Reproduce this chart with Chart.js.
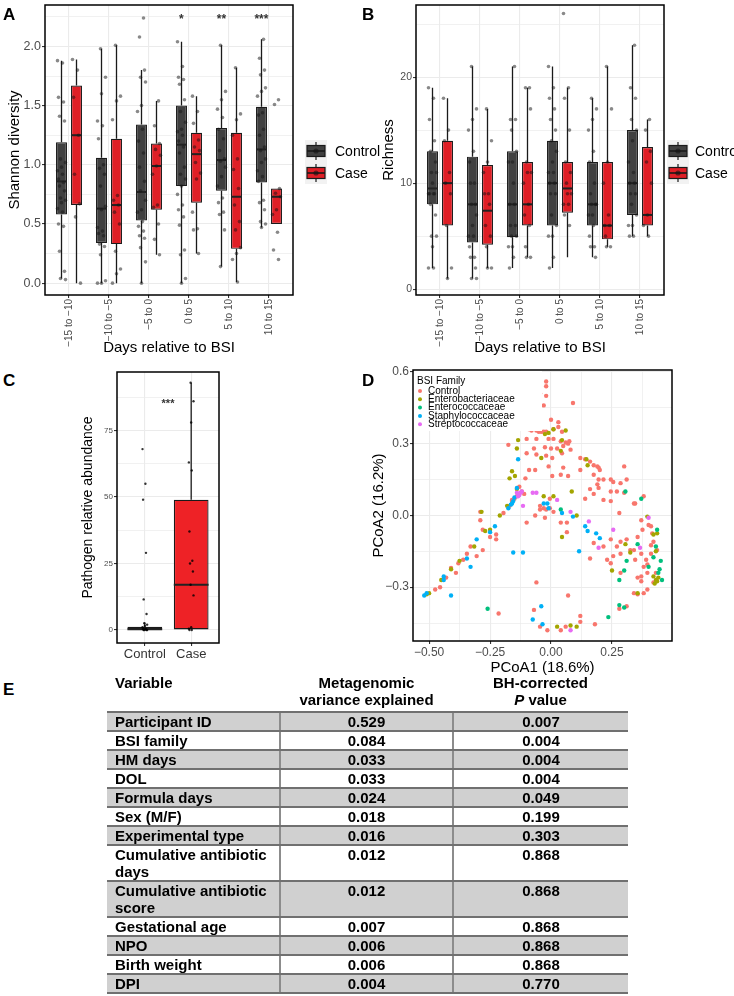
<!DOCTYPE html>
<html>
<head>
<meta charset="utf-8">
<script src="https://cdn.jsdelivr.net/npm/chart.js@4.4.1/dist/chart.umd.min.js"></script>
<style>
    body { margin: 0; background: #fff; font-family: 'Liberation Sans', Arial, sans-serif; }
    #page { position: relative; width: 734px; height: 996px; overflow: hidden; background: #fff; }
    canvas { position: absolute; }
    .tag { position: absolute; font-weight: bold; font-size: 17px; line-height: 17px; }
    .head { position: absolute; top: 674px; font-weight: bold; font-size: 15px; line-height: 17px; text-align: center; }
    table { position: absolute; left: 107px; top: 711px; width: 521px; border-collapse: collapse; table-layout: fixed; font-weight: bold; font-size: 15px; }
    td { padding: 0; line-height: 17px; border-top: 2px solid #707070; border-bottom: 2px solid #707070; vertical-align: top; text-align: center; }
    td:first-child { text-align: left; padding-left: 8px; }
    td + td { border-left: 2px solid #8c8c8c; }
    tr:nth-child(odd) td { background: #d0d0d0; }
</style>
</head>
<body>
<div id="page">
    <canvas id="shannon" width="390" height="360" style="left:0;top:0;width:390px;height:360px"></canvas>
    <canvas id="richness" width="364" height="360" style="left:370px;top:0;width:364px;height:360px"></canvas>
    <canvas id="pathogen" width="170" height="310" style="left:70px;top:360px;width:170px;height:310px"></canvas>
    <canvas id="pcoa" width="364" height="320" style="left:370px;top:360px;width:364px;height:320px"></canvas>

    <div class="tag" style="left:3px;top:6px">A</div>
    <div class="tag" style="left:362px;top:6px">B</div>
    <div class="tag" style="left:3px;top:372px">C</div>
    <div class="tag" style="left:362px;top:372px">D</div>
    <div class="tag" style="left:3px;top:681px">E</div>

    <div class="head" style="left:115px;text-align:left">Variable</div>
    <div class="head" style="left:280px;width:173px">Metagenomic<br>variance explained</div>
    <div class="head" style="left:453px;width:175px">BH-corrected<br><i>P</i> value</div>
    <table id="table">
        <colgroup><col style="width:173px"><col style="width:173px"><col style="width:175px"></colgroup>
        <tbody></tbody>
    </table>
</div>
<script>
// ---- data ----
const groupLabels = ['\u221215 to \u221210', '\u221210 to \u22125', '\u22125 to 0', '0 to 5', '5 to 10', '10 to 15']

// each box: [lower whisker, q1, median, q3, upper whisker]
const shannonControlStats = [
    [0.04, 0.58, 0.86, 1.19, 1.88],
    [0.00, 0.34, 0.63, 1.06, 1.98],
    [0.00, 0.53, 0.77, 1.34, 1.80],
    [0.00, 0.82, 1.17, 1.50, 2.04],
    [0.14, 0.78, 1.04, 1.31, 2.01],
    [0.47, 0.85, 1.13, 1.49, 2.06],
]
const shannonCaseStats = [
    [0.00, 0.66, 1.25, 1.67, 1.89],
    [0.00, 0.33, 0.66, 1.22, 2.01],
    [0.24, 0.62, 0.99, 1.18, 1.54],
    [0.25, 0.68, 1.09, 1.27, 1.58],
    [0.01, 0.29, 0.73, 1.27, 1.82],
    [0.50, 0.50, 0.73, 0.80, 0.80],
]
const shannonControlPoints = [
    [1.88, 1.86, 1.57, 1.53, 1.41, 1.37, 1.05, 1.02, 0.98, 0.95, 0.92, 0.88, 0.85, 0.82, 0.78, 0.72, 0.70, 0.68, 0.63, 0.60, 0.50, 0.48, 0.27, 0.10, 0.04, 0.03],
    [1.98, 1.74, 1.60, 1.37, 1.33, 1.22, 1.00, 0.97, 0.92, 0.82, 0.65, 0.62, 0.47, 0.44, 0.42, 0.40, 0.33, 0.31, 0.24, 0.02, 0.00, 0.00],
    [2.24, 2.08, 1.80, 1.74, 1.70, 1.50, 1.45, 1.30, 1.20, 1.10, 0.98, 0.86, 0.78, 0.70, 0.62, 0.60, 0.52, 0.48, 0.44, 0.40, 0.38, 0.30, 0.18, 0.00],
    [2.04, 1.83, 1.74, 1.72, 1.68, 1.55, 1.45, 1.36, 1.30, 1.28, 1.25, 1.20, 1.15, 1.10, 0.98, 0.92, 0.88, 0.82, 0.75, 0.66, 0.62, 0.56, 0.49, 0.28, 0.24, 0.04, 0.00],
    [2.01, 1.62, 1.55, 1.47, 1.40, 1.30, 1.22, 1.12, 1.05, 1.03, 0.98, 0.90, 0.82, 0.72, 0.68, 0.60, 0.58, 0.45, 0.14],
    [2.06, 1.90, 1.80, 1.76, 1.65, 1.62, 1.58, 1.44, 1.42, 1.30, 1.25, 1.15, 1.12, 1.05, 1.02, 0.95, 0.90, 0.86, 0.70, 0.68, 0.62, 0.52, 0.50, 0.47],
]
const shannonCasePoints = [
    [1.89, 1.80, 1.57, 1.25, 0.92, 0.67, 0.56, 0.00],
    [2.01, 1.58, 1.54, 1.38, 0.74, 0.70, 0.66, 0.60, 0.50, 0.27, 0.12, 0.08, 0.00],
    [1.54, 1.33, 1.18, 1.13, 1.08, 0.99, 0.92, 0.66, 0.64, 0.50, 0.37, 0.24],
    [1.58, 1.45, 1.35, 1.21, 1.15, 1.12, 1.02, 0.93, 0.88, 0.60, 0.46, 0.45, 0.25],
    [1.82, 1.43, 1.38, 1.25, 1.05, 0.96, 0.80, 0.66, 0.52, 0.45, 0.30, 0.25, 0.20, 0.01],
    [1.55, 1.51, 0.80, 0.76, 0.73, 0.62, 0.58, 0.43, 0.28, 0.20],
]
const shannonTicks = [0, 0.5, 1, 1.5, 2]
const shannonStars = ['', '', '', '*', '**', '***']

const richnessControlStats = [
    [2, 8, 9.5, 13, 19],
    [1, 4.4, 8, 12.5, 21],
    [2, 4.9, 8, 13, 21],
    [2, 6, 10, 14, 21],
    [3, 6, 8, 12, 18],
    [5, 7, 10, 15, 23],
]
const richnessCaseStats = [
    [1, 6, 10, 14, 18],
    [2, 4.2, 7.4, 11.7, 17],
    [3, 6, 8, 12, 19],
    [3, 7.2, 9.5, 12, 19],
    [4, 4.7, 6, 12, 21],
    [5, 6, 7, 13.4, 16],
]
const richnessControlPoints = [
    [19, 18, 16, 14, 13, 12, 11, 11, 10, 9, 9, 9, 9, 8, 7, 5, 5, 4, 2, 2],
    [21, 17, 16, 15, 13, 12, 10, 10, 8, 8, 7, 6, 5, 5, 4, 3, 3, 2, 1, 1],
    [21, 16, 16, 15, 13, 12, 12, 10, 8, 8, 6, 6, 5, 5, 4, 4, 3, 2],
    [21, 19, 18, 17, 16, 15, 14, 13, 12, 11, 11, 10, 10, 9, 9, 7, 6, 5, 5, 3, 2],
    [18, 17, 16, 15, 13, 12, 10, 9, 8, 8, 8, 7, 7, 6, 5, 4, 4, 3],
    [23, 19, 18, 16, 15, 14, 12, 11, 10, 10, 9, 9, 8, 7, 6, 6, 5, 5],
]
const richnessCasePoints = [
    [18, 15, 14, 11, 10, 9, 6, 2, 1],
    [17, 14, 12, 11, 9, 9, 8, 6, 5, 4, 2, 2],
    [19, 19, 17, 12, 11, 11, 10, 8, 7, 6, 4, 3, 3],
    [26, 19, 18, 15, 12, 11, 10, 9, 9, 8, 8, 7, 6],
    [21, 17, 12, 10, 7, 6, 6, 5, 4, 4],
    [16, 15, 13, 12, 10, 7, 6, 5],
]
const richnessTicks = [0, 10, 20]

const pathogenGroups = ['Control', 'Case']
const pathogenStats = [
    [0, 0, 0.3, 1.2, 2.8],
    [0, 0, 17, 49, 93],
]
const pathogenControlPoints = [68, 55, 49, 29, 11.5, 6, 2.5, 2, 1.5, 1, 0.5, 0.3, 0.2, 0, 0, 0, 0]
const pathogenCasePoints = [93, 86, 78, 63, 60, 37, 26, 25, 22, 17, 13, 1, 0.5, 0, 0]
const pathogenTicks = [0, 25, 50, 75]

const pcoaFamilies = ['Control', 'Enterobacteriaceae', 'Enterococcaceae', 'Staphylococcaceae', 'Streptococcaceae']
const pcoaControl = [
    [-0.02, 0.56], [-0.02, 0.54], [-0.045, 0.51], [-0.02, 0.5], [-0.03, 0.46], [0.09, 0.47], [-0.07, 0.41], [-0.07, 0.39], [0, 0.4], [0.03, 0.39],
    [-0.09, 0.36], [-0.08, 0.355], [-0.06, 0.355], [-0.05, 0.35], [-0.04, 0.35], [-0.03, 0.35], [-0.02, 0.35], [0.01, 0.36], [0.03, 0.37], [0.045, 0.35],
    [-0.1, 0.32], [-0.06, 0.32], [-0.01, 0.32], [0.01, 0.32], [0.04, 0.31], [0.06, 0.305], [0.07, 0.3], [0.075, 0.31], [0.05, 0.29], [-0.175, 0.295],
    [-0.07, 0.28], [-0.025, 0.285], [0, 0.28], [0.025, 0.28], [0.08, 0.275], [-0.1, 0.26], [-0.06, 0.255], [-0.02, 0.25], [0.005, 0.24], [0.045, 0.26],
    [0.12, 0.24], [0.14, 0.235], [0.16, 0.225], [0.175, 0.21], [0.19, 0.205], [0.195, 0.2], [0.2, 0.19], [0.3, 0.205], [-0.09, 0.19], [-0.065, 0.19],
    [-0.01, 0.205], [0.05, 0.2], [0.12, 0.19], [-0.105, 0.155], [0.005, 0.165], [0.04, 0.17], [0.07, 0.165], [0.175, 0.17], [0.195, 0.15], [0.215, 0.15],
    [0.245, 0.15], [0.255, 0.14], [0.31, 0.15], [0.285, 0.135], [0.19, 0.13], [0.195, 0.115], [0.16, 0.11], [0.175, 0.09], [0.245, 0.1], [0.27, 0.1],
    [0.3, 0.095], [0.34, 0.05], [0.345, 0.05], [0.38, 0.08], [0.14, 0.07], [0.215, 0.065], [0.245, 0.06], [0.28, 0.01], [0.37, -0.02], [0.4, -0.04],
    [0.415, -0.075], [0.42, -0.11], [0.375, -0.06], [0.355, -0.09], [0.41, -0.045], [-0.045, 0.025], [-0.02, 0.025], [-0.005, 0.03], [0.01, 0.015], [0.04, -0.03],
    [0.065, -0.03], [0.065, -0.07], [-0.025, -0.01], [-0.03, 0.03], [-0.005, 0.07], [-0.045, 0.04], [-0.065, 0], [-0.1, -0.03], [-0.29, 0.015], [-0.29, -0.02],
    [-0.28, -0.06], [-0.25, -0.09], [-0.225, -0.08], [-0.195, 0.01], [-0.17, 0.04], [-0.16, 0.065], [-0.15, 0.07], [-0.14, 0.08], [-0.225, -0.1], [-0.28, -0.145],
    [-0.305, -0.17], [-0.345, -0.16], [-0.36, -0.185], [-0.39, -0.24], [-0.455, -0.3], [-0.475, -0.31], [-0.06, -0.28], [0.07, -0.335], [0.12, -0.42], [0.18, -0.455],
    [-0.07, -0.395], [-0.045, -0.465], [-0.015, -0.48], [0.04, -0.48], [0.06, -0.465], [0.12, -0.445], [-0.215, -0.41], [0.28, -0.39], [0.31, -0.38], [0.355, -0.33],
    [0.38, -0.325], [0.395, -0.31], [0.42, -0.28], [0.395, -0.24], [0.43, -0.24], [0.37, -0.255], [0.38, -0.215], [0.395, -0.205], [0.39, -0.185], [0.37, -0.16],
    [0.41, -0.16], [0.435, -0.145], [0.23, -0.185], [0.255, -0.17], [0.285, -0.16], [0.34, -0.145], [0.245, -0.2], [0.27, -0.13], [0.285, -0.11], [0.31, -0.1],
    [0.245, -0.1], [0.175, -0.115], [0.215, -0.13], [0.16, -0.18], [0.345, -0.185], [0.325, -0.145], [0.41, -0.125], [0.355, -0.26], [0.37, -0.275], [0.34, -0.325],
    [0.285, -0.24], [-0.38, -0.2], [-0.43, -0.26], [-0.41, -0.22], [-0.13, 0.12], [-0.12, 0.1], [-0.11, 0.09], [-0.16, 0.06], [-0.33, -0.13],
]
const pcoaEnterobacteriaceae = [
    [-0.11, 0.365], [-0.135, 0.315], [-0.14, 0.28], [-0.16, 0.185], [-0.148, 0.165], [-0.17, 0.155], [-0.025, 0.34], [-0.01, 0.345], [0.01, 0.36], [-0.04, 0.24],
    [0.04, 0.27], [0.06, 0.355], [0.045, 0.315], [0.085, 0.1], [0.145, 0.235], [0.15, 0.21], [-0.03, 0.08], [0.01, 0.08], [0.045, -0.09], [0.105, 0],
    [-0.14, 0.11], [-0.18, 0.04], [-0.285, 0.015], [-0.27, -0.065], [-0.25, -0.06], [-0.21, 0], [-0.315, -0.13], [-0.375, -0.19], [-0.41, -0.225], [-0.45, -0.27],
    [-0.5, -0.325], [-0.51, -0.33], [0.08, -0.46], [0.105, -0.465], [0.025, -0.465], [0.25, -0.23], [0.305, -0.12], [0.325, -0.155], [0.395, -0.005], [0.42, -0.08],
    [0.435, -0.075], [0.43, -0.15], [0.42, -0.255], [0.43, -0.27], [0.435, -0.275], [0.355, -0.325], [0.44, -0.26], [0.425, -0.285],
]
const pcoaEnterococcaceae = [
    [0.305, 0.1], [0.37, 0.07], [0.435, -0.06], [0.43, -0.13], [0.45, -0.19], [0.445, -0.225], [0.44, -0.24], [0.355, -0.12], [0.31, -0.19], [0.3, -0.23],
    [0.28, -0.27], [0.28, -0.375], [0.3, -0.385], [0.235, -0.425], [0.04, 0.025], [-0.26, -0.39], [0.42, -0.175], [0.4, -0.215], [0.455, -0.27],
]
const pcoaStaphylococcaceae = [
    [-0.08, 0.43], [-0.105, 0.39], [-0.1, 0.395], [-0.135, 0.235], [-0.14, 0.115], [-0.15, 0.075], [-0.16, 0.05], [-0.175, 0.03], [-0.03, 0.05], [-0.015, 0.05],
    [-0.01, 0.03], [0.045, 0.01], [0.09, -0.005], [0.14, -0.045], [0.15, -0.065], [0.185, -0.075], [0.2, -0.095], [-0.155, -0.155], [-0.115, -0.155], [0.115, -0.15],
    [-0.04, -0.38], [-0.075, -0.435], [-0.035, -0.455], [-0.25, -0.07], [-0.23, -0.045], [-0.305, -0.1], [-0.345, -0.18], [-0.33, -0.215], [-0.44, -0.255], [-0.44, -0.27],
    [-0.41, -0.335], [-0.52, -0.335], [-0.51, -0.325], [-0.165, 0.045], [-0.155, 0.06],
]
const pcoaStreptococcaceae = [
    [-0.14, 0.095], [-0.13, 0.085], [-0.12, 0.1], [-0.135, 0.08], [-0.115, 0.04], [-0.075, 0.095], [-0.06, 0.095], [0.025, 0.065], [0.08, 0.015], [0.155, -0.025],
    [0.255, -0.06], [0.195, -0.135], [0.365, -0.135], [0.4, -0.01], [0.08, -0.48], [-0.125, 0.095],
]
const pcoaXTicks = [-0.5, -0.25, 0, 0.25]
const pcoaYTicks = [-0.3, 0, 0.3, 0.6]

const tableVariables = ['Participant ID', 'BSI family', 'HM days', 'DOL', 'Formula days', 'Sex (M/F)', 'Experimental type',
    'Cumulative antibiotic days', 'Cumulative antibiotic score', 'Gestational age', 'NPO', 'Birth weight', 'DPI']
const tableVariance = ['0.529', '0.084', '0.033', '0.033', '0.024', '0.018', '0.016', '0.012', '0.012', '0.007', '0.006', '0.006', '0.004']
const tablePValues = ['0.007', '0.004', '0.004', '0.004', '0.049', '0.199', '0.303', '0.868', '0.868', '0.868', '0.868', '0.868', '0.770']

// ---- styling helpers ----
const controlFill = '#404040'
const caseFill = '#df1f26'
const familyColors = ['#F8766D', '#A3A500', '#00BF7D', '#00B0F6', '#E76BF3']
const tickGray = '#4d4d4d'
const gridGray = '#ebebeb'

Chart.defaults.font.family = "'Liberation Sans', Arial, sans-serif"
Chart.defaults.animation = false
Chart.defaults.plugins.legend.display = false
Chart.defaults.plugins.tooltip.enabled = false

function gridValues(major, min, max) {
    const half = (major[1] - major[0]) / 2
    const out = []
    for (let k = -1; k <= major.length * 2; k++) {
        const v = Math.round((major[0] + k * half) * 1e6) / 1e6
        if (v >= min && v <= max) out.push(v)
    }
    return out
}
const isMajor = (v, major) => major.some(m => Math.abs(m - v) < 1e-6)
const fmt = (v, digits) => (v < -1e-9 ? '\u2212' : '') + Math.abs(v).toFixed(digits)

function valueAxis({ min, max, major, digits, size, fontSize, title, titleSize = 15, titlePad, horizontal = false }) {
    const values = gridValues(major, min, max)
    return {
        type: 'linear', min, max, bounds: 'data', offset: false,
        afterBuildTicks: scale => { scale.ticks = values.map(value => ({ value })) },
        afterFit: scale => {
            if (horizontal) scale.height = size
            else scale.width = size
            scale.paddingTop = scale.paddingBottom = scale.paddingLeft = scale.paddingRight = 0
        },
        ticks: {
            autoSkip: false, padding: 1, color: tickGray, maxRotation: 0, minRotation: 0,
            font: { size: fontSize },
            callback: v => isMajor(v, major) ? fmt(v, digits) : '',
        },
        grid: {
            color: gridGray, tickLength: 3, offset: false,
            lineWidth: ctx => ctx.tick && isMajor(ctx.tick.value, major) ? 1.1 : 0.7,
            tickColor: ctx => ctx.tick && isMajor(ctx.tick.value, major) ? '#333' : 'rgba(0,0,0,0)',
        },
        border: { display: false },
        title: { display: true, text: title, color: '#000', font: { size: titleSize }, padding: { top: titlePad, bottom: titlePad } },
    }
}

function groupAxis({ labels, min, max, size, fontSize, rotate, title, titlePad, color = tickGray }) {
    return {
        type: 'linear', min, max, bounds: 'data', offset: false,
        afterBuildTicks: scale => { scale.ticks = labels.map((_, i) => ({ value: i + 1 })) },
        afterFit: scale => {
            scale.height = size
            scale.paddingLeft = scale.paddingRight = 0
        },
        ticks: {
            autoSkip: false, padding: 1, color, minRotation: rotate, maxRotation: rotate,
            font: { size: fontSize },
            callback: v => labels[Math.round(v) - 1],
        },
        grid: { color: gridGray, lineWidth: 1.1, tickLength: 3, tickColor: '#333', offset: false },
        border: { display: false },
        title: title
            ? { display: true, text: title, color: '#000', font: { size: 15 }, padding: { top: 0, bottom: titlePad } }
            : { display: false },
    }
}

function boxes(label, stats, fill) {
    return {
        type: 'bar', label, stats, order: 2,
        data: stats.map((s, i) => ({ x: i + 1, y: [s[1], s[3]] })),
        backgroundColor: fill, borderColor: '#1a1a1a', borderWidth: 1.2, borderSkipped: false,
        categoryPercentage: 0.75, barPercentage: 0.73,
    }
}

// points sit in each box column, spread sideways by a fixed pattern
function jittered(groups, shift, spread, radius, color) {
    const data = []
    groups.forEach((values, g) => values.forEach((y, k) => {
        data.push({ x: g + 1 + shift + ((((k * 5 + g * 3) % 9) - 4) / 4) * spread, y })
    }))
    return { type: 'scatter', data, order: 1, pointRadius: radius, pointHoverRadius: radius, backgroundColor: color, borderWidth: 0 }
}

const boxplotPlugin = {
    id: 'boxplot',
    beforeDatasetsDraw(chart) {
        const { ctx } = chart
        const y = chart.scales.y
        ctx.save()
        ctx.strokeStyle = '#1a1a1a'
        ctx.lineWidth = 1.3
        chart.data.datasets.forEach((ds, i) => {
            if (!ds.stats) return
            chart.getDatasetMeta(i).data.forEach((bar, j) => {
                const [lo, q1, , q3, hi] = ds.stats[j]
                ctx.beginPath()
                ctx.moveTo(bar.x, y.getPixelForValue(hi))
                ctx.lineTo(bar.x, y.getPixelForValue(q3))
                ctx.moveTo(bar.x, y.getPixelForValue(q1))
                ctx.lineTo(bar.x, y.getPixelForValue(lo))
                ctx.stroke()
            })
        })
        ctx.restore()
    },
    afterDatasetDraw(chart, args) {
        const ds = chart.data.datasets[args.index]
        if (!ds.stats) return
        const { ctx } = chart
        const y = chart.scales.y
        ctx.save()
        ctx.strokeStyle = '#222'
        ctx.lineWidth = 2
        args.meta.data.forEach((bar, j) => {
            const py = y.getPixelForValue(ds.stats[j][2])
            ctx.beginPath()
            ctx.moveTo(bar.x - bar.width / 2, py)
            ctx.lineTo(bar.x + bar.width / 2, py)
            ctx.stroke()
        })
        ctx.restore()
    },
}

const panelBorder = {
    id: 'panelBorder',
    afterDatasetsDraw(chart) {
        const { ctx, chartArea: a } = chart
        ctx.save()
        ctx.strokeStyle = '#000'
        ctx.lineWidth = 1.5
        ctx.strokeRect(a.left, a.top, a.right - a.left, a.bottom - a.top)
        ctx.restore()
    },
}

function starsPlugin(marks, shift, level, size) {
    return {
        id: 'stars',
        afterDatasetsDraw(chart) {
            const { ctx, scales: { x, y } } = chart
            ctx.save()
            ctx.fillStyle = '#333'
            ctx.font = `bold ${size}px 'Liberation Sans', Arial, sans-serif`
            ctx.textAlign = 'center'
            ctx.textBaseline = 'middle'
            marks.forEach((m, i) => {
                if (m) ctx.fillText(m, x.getPixelForValue(i + 1 + shift), y.getPixelForValue(level) + 3)
            })
            ctx.restore()
        },
    }
}

function boxLegend(keyGap, textGap) {
    return {
        id: 'boxLegend',
        afterDraw(chart) {
            const { ctx, chartArea: a } = chart
            const mid = (a.top + a.bottom) / 2 + 1
            const kx = a.right + keyGap
            const entries = chart.data.datasets.filter(ds => ds.stats)
            ctx.save()
            entries.forEach((ds, i) => {
                const cy = mid + i * 22
                ctx.fillStyle = '#f2f2f2'
                ctx.fillRect(kx, cy - 11, 22, 22)
                ctx.strokeStyle = '#1a1a1a'
                ctx.lineWidth = 1.2
                ctx.beginPath()
                ctx.moveTo(kx + 11, cy - 9)
                ctx.lineTo(kx + 11, cy + 9)
                ctx.stroke()
                ctx.fillStyle = ds.backgroundColor
                ctx.fillRect(kx + 2, cy - 5.5, 18, 11)
                ctx.strokeRect(kx + 2, cy - 5.5, 18, 11)
                ctx.lineWidth = 1.6
                ctx.beginPath()
                ctx.moveTo(kx + 2, cy)
                ctx.lineTo(kx + 20, cy)
                ctx.stroke()
                ctx.fillStyle = 'rgba(20,20,20,0.6)'
                ctx.beginPath()
                ctx.arc(kx + 11, cy, 2.6, 0, Math.PI * 2)
                ctx.fill()
                ctx.fillStyle = '#000'
                ctx.font = "14px 'Liberation Sans', Arial, sans-serif"
                ctx.textBaseline = 'middle'
                ctx.fillText(ds.label, a.right + textGap, cy + 1)
            })
            ctx.restore()
        },
    }
}

function boxChart(id, o) {
    return new Chart(document.getElementById(id), {
        type: 'bar',
        data: {
            datasets: [
                boxes('Control', o.controlStats, controlFill),
                boxes('Case', o.caseStats, caseFill),
                jittered(o.controlPoints, -0.1875, 0.1, 1.8, 'rgba(20,20,20,0.5)'),
                jittered(o.casePoints, 0.1875, 0.1, 1.8, 'rgba(20,20,20,0.5)'),
            ],
        },
        options: {
            responsive: false,
            layout: { padding: { top: 5, right: o.padRight, left: 0, bottom: 0 } },
            scales: {
                x: groupAxis({ labels: groupLabels, min: 0.4, max: 6.6, size: 65, fontSize: 10, rotate: 90, title: 'Days relative to BSI', titlePad: 3 }),
                y: valueAxis(o.y),
            },
        },
        plugins: [boxplotPlugin, panelBorder, boxLegend(o.keyGap, o.textGap), ...(o.extra || [])],
    })
}

// ---- A: Shannon diversity ----
boxChart('shannon', {
    controlStats: shannonControlStats, caseStats: shannonCaseStats,
    controlPoints: shannonControlPoints, casePoints: shannonCasePoints,
    padRight: 97, keyGap: 12, textGap: 42,
    y: { min: -0.1, max: 2.35, major: shannonTicks, digits: 1, size: 45, fontSize: 12.5, title: 'Shannon diversity', titlePad: 6 },
    extra: [starsPlugin(shannonStars, -0.19, 2.25, 12)],
})

// ---- B: Richness ----
boxChart('richness', {
    controlStats: richnessControlStats, caseStats: richnessCaseStats,
    controlPoints: richnessControlPoints, casePoints: richnessCasePoints,
    padRight: 70, keyGap: 3, textGap: 31,
    y: { min: -0.55, max: 26.8, major: richnessTicks, digits: 0, size: 46, fontSize: 10.5, title: 'Richness', titlePad: 9.5 },
})

// ---- C: pathogen relative abundance ----
new Chart(document.getElementById('pathogen'), {
    type: 'bar',
    data: {
        datasets: [
            {
                type: 'bar', label: 'Pathogen', stats: pathogenStats, order: 2,
                data: pathogenStats.map((s, i) => ({ x: i + 1, y: [s[1], s[3]] })),
                backgroundColor: ['#333333', '#ee2226'], borderColor: '#1a1a1a', borderWidth: 1.3, borderSkipped: false,
                categoryPercentage: 0.75, barPercentage: 1,
            },
            jittered([pathogenControlPoints, pathogenCasePoints], 0, 0.05, 1.2, 'rgba(0,0,0,0.8)'),
        ],
    },
    options: {
        responsive: false,
        layout: { padding: { top: 12, right: 21, left: 0, bottom: 0 } },
        scales: {
            x: groupAxis({ labels: pathogenGroups, min: 0.4, max: 2.6, size: 27, fontSize: 13, rotate: 0, color: '#333' }),
            y: valueAxis({ min: -4.9, max: 97, major: pathogenTicks, digits: 0, size: 47, fontSize: 8, title: 'Pathogen relative abundance', titleSize: 14, titlePad: 9.6 }),
        },
    },
    plugins: [boxplotPlugin, panelBorder, starsPlugin(['', '***'], -0.5, 86, 11)],
})

// ---- D: PCoA ----
const pcoaPoints = [pcoaControl, pcoaEnterobacteriaceae, pcoaEnterococcaceae, pcoaStaphylococcaceae, pcoaStreptococcaceae]
const pcoaLegend = {
    id: 'pcoaLegend',
    afterDatasetsDraw(chart) {
        const { ctx, chartArea: a } = chart
        ctx.save()
        ctx.fillStyle = '#fff'
        ctx.fillRect(a.left + 1, a.top + 1, 128, 60)
        ctx.font = "10px 'Liberation Sans', Arial, sans-serif"
        ctx.textBaseline = 'middle'
        ctx.fillStyle = '#000'
        ctx.fillText('BSI Family', a.left + 4, a.top + 11)
        pcoaFamilies.forEach((name, i) => {
            const cy = a.top + 21 + i * 8.3
            ctx.fillStyle = familyColors[i]
            ctx.beginPath()
            ctx.arc(a.left + 7, cy, 2, 0, Math.PI * 2)
            ctx.fill()
            ctx.fillStyle = '#000'
            ctx.fillText(name, a.left + 15, cy)
        })
        ctx.restore()
    },
}
new Chart(document.getElementById('pcoa'), {
    type: 'scatter',
    data: {
        datasets: pcoaFamilies.map((name, i) => ({
            label: name,
            data: pcoaPoints[i].map(([x, y]) => ({ x, y })),
            backgroundColor: familyColors[i], borderWidth: 0, pointRadius: 2.2, pointHoverRadius: 2.2,
            order: pcoaFamilies.length - i,
        })),
    },
    options: {
        responsive: false,
        layout: { padding: { top: 10, right: 62, left: 0, bottom: 0 } },
        scales: {
            x: valueAxis({ min: -0.566, max: 0.496, major: pcoaXTicks, digits: 2, size: 39, fontSize: 12, title: 'PCoA1 (18.6%)', titlePad: 3, horizontal: true }),
            y: valueAxis({ min: -0.525, max: 0.608, major: pcoaYTicks, digits: 1, size: 43, fontSize: 12, title: 'PCoA2 (16.2%)', titlePad: 0 }),
        },
    },
    plugins: [panelBorder, pcoaLegend],
})

// ---- E: table ----
const tbody = document.querySelector('#table tbody')
tableVariables.forEach((name, i) => {
    const tr = document.createElement('tr')
    ;[name, tableVariance[i], tablePValues[i]].forEach(text => {
        const td = document.createElement('td')
        td.textContent = text
        tr.appendChild(td)
    })
    tbody.appendChild(tr)
})
</script>
</body>
</html>
